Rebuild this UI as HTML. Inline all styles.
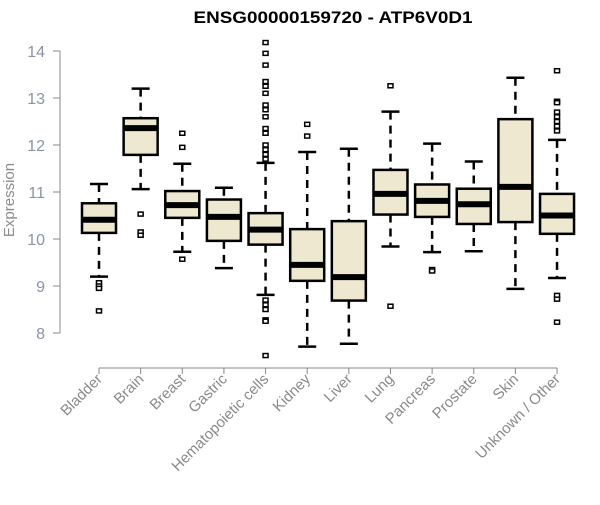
<!DOCTYPE html>
<html><head><meta charset="utf-8"><style>
body{margin:0;background:#fff}
svg{font-family:"Liberation Sans",Arial,sans-serif}
</style></head><body>
<svg id="c" width="600" height="500">
<text x="333" y="23" text-anchor="middle" font-size="17" font-weight="bold" textLength="279" lengthAdjust="spacingAndGlyphs">ENSG00000159720 - ATP6V0D1</text>
<text transform="translate(14,200) rotate(-90)" text-anchor="middle" font-size="15" fill="#8c8c8c">Expression</text>
</svg>
<script>
const categories=["Bladder","Brain","Breast","Gastric","Hematopoietic cells","Kidney","Liver","Lung","Pancreas","Prostate","Skin","Unknown / Other"];
const q1=[10.13,11.79,10.45,9.96,9.88,9.11,8.69,10.52,10.47,10.32,10.36,10.11];
const med=[10.41,12.36,10.72,10.47,10.2,9.45,9.19,10.96,10.81,10.74,11.11,10.5];
const q3=[10.76,12.57,11.02,10.84,10.55,10.21,10.38,11.47,11.16,11.07,12.55,10.96];
const wlo=[9.2,11.06,9.73,9.38,8.81,7.71,7.77,9.84,9.72,9.74,8.94,9.17];
const whi=[11.17,13.2,11.6,11.09,11.62,11.85,11.92,12.71,12.03,11.65,13.43,12.11];
const outliers=[[9.07,9.0,8.95,8.47],[10.53,10.15,10.08],[12.25,11.95,9.57],[],
[14.18,13.95,13.7,13.35,13.25,13.1,12.85,12.75,12.6,12.35,12.25,12.0,11.9,11.8,11.7,8.7,8.6,8.5,8.28,8.25,7.52],
[12.44,12.19],[],[13.26,8.57],[9.35,9.32],[],[],[13.58,12.93,12.9,12.7,12.6,12.5,12.4,12.3,8.8,8.72,8.23]];
const yTicks=[8,9,10,11,12,13,14];
const NS="http://www.w3.org/2000/svg",svg=document.getElementById('c');
const y=v=>333-(v-8)*47, x=i=>99+i*41.64;
function mk(t,a,p){const e=document.createElementNS(NS,t);for(const k in a)e.setAttribute(k,a[k]);(p||svg).appendChild(e);return e;}
let ax=mk('line',{x1:60,x2:60,y1:y(14),y2:y(8),stroke:'#888'});


yTicks.forEach(v=>{mk('line',{x1:53,x2:60,y1:y(v),y2:y(v),stroke:'#888'});
const t=mk('text',{x:45,y:y(v)+6,'text-anchor':'end','font-size':16,fill:'#8a94a6'});t.textContent=v;

});
let xa=mk('line',{x1:x(0),x2:x(11),y1:368,y2:368,stroke:'#888'});


categories.forEach((c,i)=>{const cx=x(i),hw=17;
const g=mk('g',{});


mk('line',{x1:cx,x2:cx,y1:y(whi[i]),y2:y(q3[i]),stroke:'#000','stroke-width':2.5,'stroke-dasharray':'8,6'},g);
mk('line',{x1:cx,x2:cx,y1:y(q1[i]),y2:y(wlo[i]),stroke:'#000','stroke-width':2.5,'stroke-dasharray':'8,6'},g);
mk('line',{x1:cx-9,x2:cx+9,y1:y(whi[i]),y2:y(whi[i]),stroke:'#000','stroke-width':2.5},g);
mk('line',{x1:cx-9,x2:cx+9,y1:y(wlo[i]),y2:y(wlo[i]),stroke:'#000','stroke-width':2.5},g);
mk('rect',{x:cx-hw,y:y(q3[i]),width:2*hw,height:y(q1[i])-y(q3[i]),fill:'#ede8cf',stroke:'#000','stroke-width':2.5},g);
mk('line',{x1:cx-hw,x2:cx+hw,y1:y(med[i]),y2:y(med[i]),stroke:'#000','stroke-width':6},g);
outliers[i].forEach(o=>mk('rect',{x:cx-2.5,y:y(o)-2,width:5,height:4,fill:'#fff',stroke:'#000','stroke-width':1.5},g));
mk('line',{x1:cx,x2:cx,y1:368,y2:374,stroke:'#888'});
const t=mk('text',{transform:`translate(${cx+4},380) rotate(-45)`,'text-anchor':'end','font-size':15,fill:'#8a8a8a'});t.textContent=c;

});
</script>
</body></html>
